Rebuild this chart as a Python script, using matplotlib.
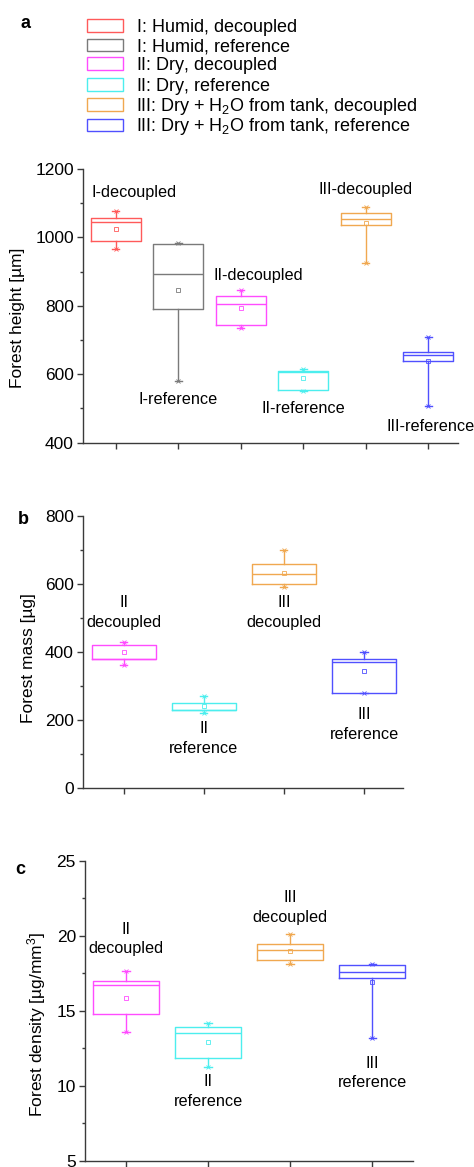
import matplotlib
matplotlib.use('Agg')
import matplotlib.pyplot as plt
from matplotlib.patches import Patch
from matplotlib.ticker import MultipleLocator, FixedLocator, NullFormatter

plt.rcParams['font.family'] = ['Liberation Sans', 'DejaVu Sans']
plt.rcParams['mathtext.fontset'] = 'custom'
plt.rcParams['mathtext.rm'] = 'Liberation Sans'
plt.rcParams['mathtext.it'] = 'Liberation Sans:italic'
plt.rcParams['mathtext.default'] = 'regular'

# ---------------- data ----------------
legend_labels = ['I: Humid, decoupled', 'I: Humid, reference',
                 'II: Dry, decoupled', 'II: Dry, reference',
                 'III: Dry + H$_2$O from tank, decoupled',
                 'III: Dry + H$_2$O from tank, reference']
colors_all = ['#ff5a5a', '#7a7a7a', '#ff4cff', '#4ceeee', '#f0a850', '#5050ff']

# Panel a: forest height [µm]
height_labels = ['I-decoupled', 'I-reference', 'II-decoupled', 'II-reference',
                 'III-decoupled', 'III-reference']
height_whislo = [967, 580, 734, 551, 925, 508]
height_q1 = [990, 792, 743, 554, 1035, 639]
height_med = [1046, 893, 804, 607, 1053, 655]
height_q3 = [1056, 981, 828, 610, 1072, 664]
height_whishi = [1078, 985, 845, 614, 1088, 710]
height_mean = [1025, 846, 793, 590, 1043, 639]

# Panel b: forest mass [µg]  (groups II-dec, II-ref, III-dec, III-ref)
sub_labels = ['II\ndecoupled', 'II\nreference', 'III\ndecoupled', 'III\nreference']
mass_whislo = [360, 220, 590, 279]
mass_q1 = [380, 229, 599, 279]
mass_med = [380, 229, 629, 370]
mass_q3 = [420, 248, 660, 380]
mass_whishi = [430, 269, 700, 399]
mass_mean = [401, 242, 633, 345]

# Panel c: forest density [µg/mm³]
dens_whislo = [13.6, 11.22, 18.11, 13.16]
dens_q1 = [14.78, 11.84, 18.38, 17.16]
dens_med = [16.71, 13.51, 19.09, 17.58]
dens_q3 = [17.02, 13.93, 19.49, 18.07]
dens_whishi = [17.69, 14.22, 20.11, 18.11]
dens_mean = [15.89, 12.89, 19.0, 16.91]

# ---------------- layout ----------------
W, H = 474, 1167
fig = plt.figure(figsize=(W / 100, H / 100), dpi=100)


def rect(l, r, t, b):
    return [l / W, 1 - b / H, (r - l) / W, (b - t) / H]


def style_axis(ax, xlim, ylim, major, minor, npos):
    ax.set_xlim(*xlim)
    ax.set_ylim(*ylim)
    for s in ['top', 'right']:
        ax.spines[s].set_visible(False)
    for s in ['left', 'bottom']:
        ax.spines[s].set_color('#3a3a3a')
        ax.spines[s].set_linewidth(1.0)
    ax.yaxis.set_major_locator(MultipleLocator(major))
    ax.yaxis.set_minor_locator(MultipleLocator(minor))
    ax.xaxis.set_major_locator(FixedLocator(list(range(1, npos + 1))))
    ax.xaxis.set_major_formatter(NullFormatter())
    ax.tick_params(axis='both', which='major', direction='out', length=4.5,
                   width=1.0, color='#3a3a3a', labelsize=12.5, pad=2)
    ax.tick_params(axis='y', which='minor', direction='out', length=2.5,
                   width=1.0, color='#3a3a3a')
    ax.set_facecolor('none')


def draw_boxes(ax, whislo, q1, med, q3, whishi, mean, cols, capw):
    stats = []
    for i in range(len(q1)):
        stats.append(dict(whislo=whislo[i], q1=q1[i], med=med[i], q3=q3[i],
                          whishi=whishi[i], mean=mean[i], fliers=[]))
    pos = list(range(1, len(q1) + 1))
    art = ax.bxp(stats, positions=pos, widths=0.8, showmeans=True,
                 showfliers=False, capwidths=capw, manage_ticks=False)
    for i, c in enumerate(cols):
        art['boxes'][i].set(color=c, linewidth=1.0)
        art['medians'][i].set(color=c, linewidth=1.0)
        art['means'][i].set(marker='s', markersize=2.8, markerfacecolor='none',
                            markeredgecolor=c, markeredgewidth=0.6)
        for k in (2 * i, 2 * i + 1):
            art['whiskers'][k].set(color=c, linewidth=1.0, linestyle='-')
            art['caps'][k].set(color=c, linewidth=1.0)
        ax.plot([pos[i], pos[i]], [whislo[i], whishi[i]], linestyle='none',
                marker='x', markersize=2.4, markeredgewidth=0.6, color=c)


TXT = 11.7

# ---- panel a ----
axa = fig.add_axes(rect(83, 458.3, 169, 442.7))
draw_boxes(axa, height_whislo, height_q1, height_med, height_q3, height_whishi,
           height_mean, colors_all, 0.11)
style_axis(axa, (0.48, 6.48), (400, 1200), 200, 100, 6)
a_label_xy = [(1.29, 1132), (2.0, 527), (3.29, 889), (4.0, 500), (5.0, 1141), (6.03, 447)]
for lab, (x, y) in zip(height_labels, a_label_xy):
    axa.text(x, y, lab, ha='center', va='center', fontsize=TXT, clip_on=False)
axa.set_ylabel('Forest height [µm]', fontsize=12.5, va='center')
axa.yaxis.set_label_coords((18 - 83) / 375.3, 0.455)

# ---- panel b ----
sub_cols = colors_all[2:]
axb = fig.add_axes(rect(82.7, 403.3, 516, 787.7))
draw_boxes(axb, mass_whislo, mass_q1, mass_med, mass_q3, mass_whishi,
           mass_mean, sub_cols, 0.09)
style_axis(axb, (0.49, 4.49), (0, 800), 200, 100, 4)
b_label_xy = [(1.0, 516), (2.0, 145), (3.0, 516), (4.0, 186)]
for lab, (x, y) in zip(sub_labels, b_label_xy):
    axb.text(x, y, lab, ha='center', va='center', fontsize=TXT,
             linespacing=1.35, clip_on=False)
axb.set_ylabel('Forest mass [µg]', fontsize=12.5, va='center')
axb.yaxis.set_label_coords((28 - 82.7) / 320.6, 0.478)

# ---- panel c ----
axc = fig.add_axes(rect(85, 413.3, 861, 1160.7))
draw_boxes(axc, dens_whislo, dens_q1, dens_med, dens_q3, dens_whishi,
           dens_mean, sub_cols, 0.09)
style_axis(axc, (0.5, 4.5), (5, 25), 5, 2.5, 4)
c_label_xy = [(1.0, 19.8), (2.0, 9.62), (3.0, 21.9), (4.0, 10.84)]
for lab, (x, y) in zip(sub_labels, c_label_xy):
    axc.text(x, y, lab, ha='center', va='center', fontsize=TXT,
             linespacing=1.35, clip_on=False)
axc.set_ylabel('Forest density [µg/mm$^3$]', fontsize=12.5, va='center')
axc.yaxis.set_label_coords((37 - 85) / 328.3, 0.456)

# ---- panel letters ----
for letter, (x, y) in zip(['a', 'b', 'c'], [(25.7, 24), (23, 519), (20.7, 870)]):
    fig.text(x / W, 1 - y / H, letter, fontsize=13, fontweight='bold',
             ha='center', va='center')

# ---- legend ----
# a phantom subscript keeps every legend row the same height
uniform_labels = [lab if '$' in lab else lab + r'$_{\,}$' for lab in legend_labels]
handles = [Patch(facecolor='none', edgecolor=c, linewidth=1.0) for c in colors_all]
fig.legend(handles, uniform_labels, loc='upper left',
           bbox_to_anchor=(86.7 / W, 1 - 16.5 / H), frameon=False, fontsize=13,
           handlelength=2.0, handleheight=0.72, handletextpad=0.75,
           labelspacing=-0.035, borderpad=0, borderaxespad=0)

fig.savefig('out.png', dpi=100)
